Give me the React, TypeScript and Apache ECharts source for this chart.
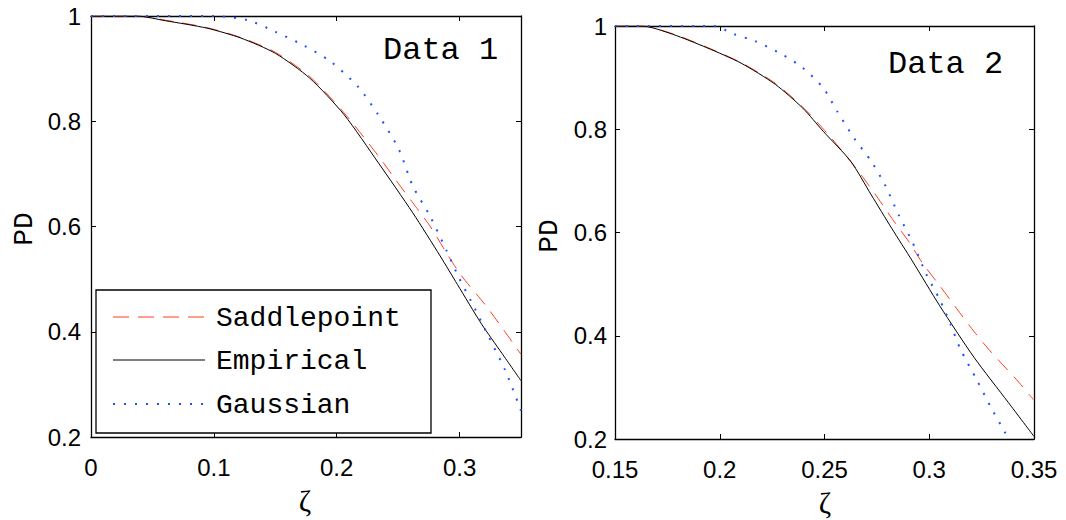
import React, { useEffect, useRef } from "react";
import * as echarts from "echarts";

// ---- tick values ----
const xTicksLeft = [0, 0.1, 0.2, 0.3];
const xTicksRight = [0.15, 0.2, 0.25, 0.3, 0.35];
const yTicks = [0.2, 0.4, 0.6, 0.8, 1];

// ---- panel titles / legend ----
const panelTitles = ["Data 1", "Data 2"];
const seriesNames = ["Saddlepoint", "Empirical", "Gaussian"];

// ---- Data 1 (left panel) [zeta, PD] ----
const d1Saddle = [
  [0, 1], [0.037, 1], [0.0606, 0.992], [0.0942, 0.978], [0.1221, 0.959], [0.1501, 0.931],
  [0.178, 0.885], [0.206, 0.816], [0.2339, 0.734], [0.2479, 0.689], [0.2619, 0.645],
  [0.2759, 0.601], [0.2898, 0.548], [0.301, 0.508], [0.3206, 0.452], [0.3345, 0.408], [0.35, 0.357],
];
const d1Empirical = [
  [0, 1], [0.037, 1], [0.0606, 0.991], [0.0942, 0.977], [0.1221, 0.958], [0.1501, 0.929],
  [0.178, 0.882], [0.206, 0.8125], [0.2339, 0.721], [0.2619, 0.626], [0.2842, 0.544],
  [0.2982, 0.49], [0.3178, 0.415], [0.3345, 0.359], [0.35, 0.307],
];
const d1Gaussian = [
  [0, 1], [0.0998, 1], [0.1277, 0.992], [0.1501, 0.97], [0.1724, 0.945], [0.1948, 0.914],
  [0.2172, 0.866], [0.2339, 0.812], [0.2507, 0.746], [0.2619, 0.677], [0.2759, 0.62],
  [0.2898, 0.552], [0.299, 0.505], [0.3122, 0.445], [0.3234, 0.392], [0.3373, 0.326], [0.35, 0.25],
];

// ---- Data 2 (right panel) [zeta, PD] ----
const d2Saddle = [
  [0.15, 1], [0.1628, 1], [0.1775, 0.985], [0.1938, 0.959], [0.2102, 0.929], [0.2265, 0.889],
  [0.2396, 0.843], [0.2511, 0.793], [0.2592, 0.754], [0.2674, 0.712], [0.2756, 0.666],
  [0.2838, 0.618], [0.2903, 0.582], [0.2969, 0.54], [0.305, 0.497], [0.3132, 0.452],
  [0.3214, 0.408], [0.3296, 0.368], [0.341, 0.318], [0.35, 0.275],
];
const d2Empirical = [
  [0.15, 1], [0.1628, 1], [0.1775, 0.984], [0.1938, 0.958], [0.2102, 0.928], [0.2265, 0.887],
  [0.2396, 0.841], [0.2494, 0.796], [0.2625, 0.738], [0.2723, 0.673], [0.2821, 0.608],
  [0.2919, 0.545], [0.305, 0.458], [0.3214, 0.358], [0.3377, 0.271], [0.35, 0.205],
];
const d2Gaussian = [
  [0.15, 1], [0.1971, 1], [0.2069, 0.984], [0.2167, 0.971], [0.2298, 0.945], [0.2396, 0.919],
  [0.2494, 0.88], [0.256, 0.835], [0.2641, 0.783], [0.2723, 0.738], [0.2789, 0.692],
  [0.2854, 0.634], [0.2919, 0.582], [0.2985, 0.52], [0.305, 0.47], [0.3099, 0.425],
  [0.3148, 0.375], [0.323, 0.312], [0.3296, 0.26], [0.3361, 0.213], [0.3377, 0.197],
];

const RED = "#ff3c1e";
const BLUE = "#1f4fff";
const BLACK = "#000000";
const SANS = '"Liberation Sans", Arial, Helvetica, sans-serif';
const MONO = '"Liberation Mono", "Courier New", monospace';
const SERIF = '"Liberation Serif", "DejaVu Serif", serif';

const fmt = (v: number) => String(Math.round(v * 100) / 100);

function makeX(grid: number, min: number, max: number, ticks: number[], pos: string, labels: boolean, margin: number) {
  return {
    gridIndex: grid,
    type: "value",
    min,
    max,
    position: pos,
    axisLine: { show: true, onZero: false, lineStyle: { color: BLACK, width: 1.3 } },
    axisTick: { show: true, inside: true, length: 5, customValues: ticks, lineStyle: { color: BLACK, width: 1 } },
    axisLabel: {
      show: labels,
      customValues: ticks,
      margin,
      color: BLACK,
      fontSize: 24,
      fontFamily: SANS,
      formatter: fmt,
    },
    splitLine: { show: false },
  };
}

function makeY(grid: number, pos: string, labels: boolean, margin: number) {
  return {
    gridIndex: grid,
    type: "value",
    min: 0.2,
    max: 1,
    position: pos,
    axisLine: { show: true, onZero: false, lineStyle: { color: BLACK, width: 1.3 } },
    axisTick: { show: true, inside: true, length: 5, customValues: yTicks, lineStyle: { color: BLACK, width: 1 } },
    axisLabel: {
      show: labels,
      customValues: yTicks,
      margin,
      color: BLACK,
      fontSize: 24,
      fontFamily: SANS,
      formatter: fmt,
    },
    splitLine: { show: false },
  };
}

function lineSeries(name: string, data: number[][], xi: number, yi: number, color: string, width: number, dash: any) {
  return {
    name,
    type: "line",
    xAxisIndex: xi,
    yAxisIndex: yi,
    data,
    showSymbol: false,
    symbol: "none",
    silent: true,
    clip: true,
    smooth: 0.25,
    lineStyle: { color, width, type: dash },
  };
}

export default function App() {
  const ref = useRef<HTMLDivElement>(null);
  useEffect(() => {
    if (!ref.current) return;
    const chart = echarts.init(ref.current, undefined, { renderer: "svg" });
    const redDash = [14, 9];
    const blueDot = [2, 9];
    const option: any = {
      animation: false,
      backgroundColor: "#ffffff",
      grid: [
        { left: 91, top: 16, width: 430, height: 421 },
        { left: 615, top: 26, width: 419, height: 413 },
      ],
      xAxis: [
        makeX(0, 0, 0.35, xTicksLeft, "bottom", true, 18),
        makeX(0, 0, 0.35, xTicksLeft, "top", false, 8),
        makeX(1, 0.15, 0.35, xTicksRight, "bottom", true, 18),
        makeX(1, 0.15, 0.35, xTicksRight, "top", false, 8),
      ],
      yAxis: [
        makeY(0, "left", true, 10),
        makeY(0, "right", false, 8),
        makeY(1, "left", true, 8),
        makeY(1, "right", false, 8),
      ],
      series: [
        lineSeries(seriesNames[0], d1Saddle, 0, 0, RED, 1, redDash),
        lineSeries(seriesNames[1], d1Empirical, 0, 0, BLACK, 1, "solid"),
        lineSeries(seriesNames[2], d1Gaussian, 0, 0, BLUE, 2, blueDot),
        lineSeries(seriesNames[0], d2Saddle, 2, 2, RED, 1, redDash),
        lineSeries(seriesNames[1], d2Empirical, 2, 2, BLACK, 1, "solid"),
        lineSeries(seriesNames[2], d2Gaussian, 2, 2, BLUE, 2, blueDot),
      ],
      graphic: [
        // panel titles
        { type: "text", x: 383, y: 50, z: 50, style: { text: panelTitles[0], font: `32px ${MONO}`, fill: BLACK, textAlign: "left", textVerticalAlign: "middle" } },
        { type: "text", x: 888, y: 64, z: 50, style: { text: panelTitles[1], font: `32px ${MONO}`, fill: BLACK, textAlign: "left", textVerticalAlign: "middle" } },
        // axis names
        { type: "text", x: 24, y: 229, rotation: Math.PI / 2, style: { text: "PD", font: `28px ${MONO}`, fill: BLACK, textAlign: "center", textVerticalAlign: "middle" } },
        { type: "text", x: 549, y: 236, rotation: Math.PI / 2, style: { text: "PD", font: `28px ${MONO}`, fill: BLACK, textAlign: "center", textVerticalAlign: "middle" } },
        { type: "text", x: 305, y: 500, style: { text: "ζ", font: `30px ${SERIF}`, fill: BLACK, textAlign: "center", textVerticalAlign: "middle" } },
        { type: "text", x: 825, y: 502, style: { text: "ζ", font: `30px ${SERIF}`, fill: BLACK, textAlign: "center", textVerticalAlign: "middle" } },
        // legend
        { type: "rect", z: 100, shape: { x: 96, y: 290, width: 335, height: 143 }, style: { fill: "#ffffff", stroke: BLACK, lineWidth: 1.3 } },
        { type: "line", z: 101, shape: { x1: 113, y1: 317, x2: 205, y2: 317 }, style: { stroke: RED, lineWidth: 1, lineDash: [16, 9] } },
        { type: "line", z: 101, shape: { x1: 113, y1: 360, x2: 205, y2: 360 }, style: { stroke: BLACK, lineWidth: 1 } },
        { type: "line", z: 101, shape: { x1: 113, y1: 404, x2: 205, y2: 404 }, style: { stroke: BLUE, lineWidth: 2, lineDash: blueDot } },
        { type: "text", z: 101, x: 216, y: 318, style: { text: seriesNames[0], font: `28px ${MONO}`, fill: BLACK, textAlign: "left", textVerticalAlign: "middle" } },
        { type: "text", z: 101, x: 216, y: 361, style: { text: seriesNames[1], font: `28px ${MONO}`, fill: BLACK, textAlign: "left", textVerticalAlign: "middle" } },
        { type: "text", z: 101, x: 216, y: 405, style: { text: seriesNames[2], font: `28px ${MONO}`, fill: BLACK, textAlign: "left", textVerticalAlign: "middle" } },
      ],
    };
    chart.setOption(option);
    return () => chart.dispose();
  }, []);
  return (
    <div
      ref={ref}
      style={{ position: "fixed", left: 0, top: 0, width: 1066, height: 520, background: "#fff" }}
    />
  );
}
